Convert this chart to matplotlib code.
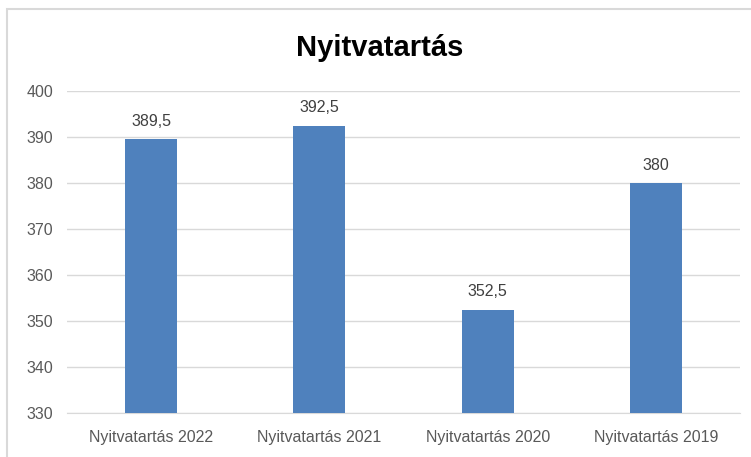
import matplotlib.pyplot as plt
from matplotlib.patches import Rectangle

categories = ["Nyitvatartás 2022", "Nyitvatartás 2021", "Nyitvatartás 2020", "Nyitvatartás 2019"]
values = [389.5, 392.5, 352.5, 380]
labels = ["389,5", "392,5", "352,5", "380"]
yticks = [330, 340, 350, 360, 370, 380, 390, 400]

plt.rcParams['font.family'] = ['Liberation Sans Narrow', 'Liberation Sans', 'DejaVu Sans']

fig = plt.figure(figsize=(7.51, 4.57), dpi=100)
fig.patches.append(Rectangle((7 / 751, -0.1), 1.1, 1.1 - 9 / 457, transform=fig.transFigure,
                             fill=False, edgecolor='#d9d9d9', linewidth=1.5))

ax = fig.add_axes([67 / 751, 1 - 413 / 457, 673 / 751, 322 / 457])
x = list(range(len(categories)))
ax.bar(x, [v - 330 for v in values], bottom=330, width=0.31, color='#4f81bd', zorder=3)
for xi, v, lab in zip(x, values, labels):
    ax.text(xi, v + 2.2, lab, ha='center', va='bottom', fontsize=11.5, color='#404040')

ax.set_xlim(-0.5, len(categories) - 0.5)
ax.set_ylim(330, 400)
ax.set_yticks(yticks)
ax.set_yticklabels([str(t) for t in yticks])
ax.set_xticks(x)
ax.set_xticklabels(categories)
ax.tick_params(axis='both', length=0, labelsize=11.5, labelcolor='#595959')
ax.tick_params(axis='y', pad=10)
ax.tick_params(axis='x', pad=12)
ax.yaxis.grid(True, color='#d9d9d9', linewidth=1, zorder=0)
for s in ax.spines.values():
    s.set_visible(False)
ax.spines['bottom'].set_visible(True)
ax.spines['bottom'].set_color('#d9d9d9')

fig.text(380 / 751, 1 - 48 / 457, "Nyitvatartás", ha='center', va='center',
         fontsize=21, fontweight='bold', color='black')

fig.savefig('out.png', dpi=100)
